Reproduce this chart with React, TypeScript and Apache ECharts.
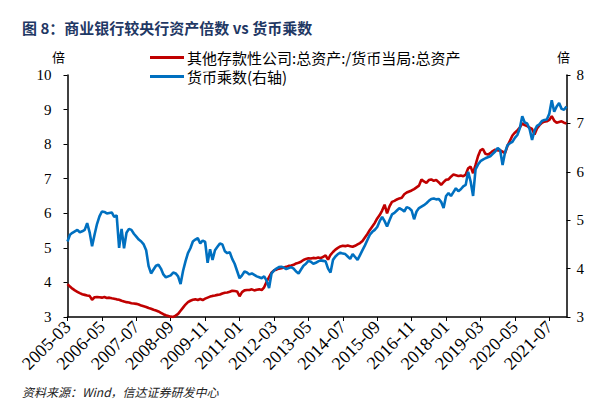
import React, { useEffect, useRef } from "react";
import * as echarts from "echarts";

const startYear = 2005;
const startMonth = 3;
const monthCount = 204;
const categories: string[] = [];
for (let k = 0; k < monthCount; k++) {
  const m0 = startMonth - 1 + k;
  const y = startYear + Math.floor(m0 / 12);
  const m = (m0 % 12) + 1;
  categories.push(`${y}-${m < 10 ? "0" + m : m}`);
}

const assetRatio: number[] = [
  3.95, 3.88, 3.82, 3.77, 3.73, 3.69, 3.66, 3.64, 3.62, 3.61,
  3.5, 3.57, 3.58, 3.57, 3.56, 3.58, 3.55, 3.56, 3.54, 3.53,
  3.51, 3.5, 3.47, 3.45, 3.43, 3.42, 3.4, 3.39, 3.38, 3.36,
  3.33, 3.31, 3.29, 3.26, 3.24, 3.21, 3.19, 3.16, 3.12, 3.08,
  3.05, 3.03, 3.01, 3.0, 3.04, 3.09, 3.18, 3.27, 3.36, 3.43,
  3.47, 3.5, 3.51, 3.49, 3.52, 3.49, 3.53, 3.56, 3.59, 3.61,
  3.62, 3.64, 3.65, 3.68, 3.7, 3.71, 3.73, 3.76, 3.75, 3.74,
  3.6, 3.72, 3.77, 3.78, 3.78, 3.8, 3.77, 3.79, 3.8, 3.78,
  3.86, 4.02, 4.15, 4.28, 4.35, 4.37, 4.4, 4.41, 4.43, 4.45,
  4.48, 4.49, 4.51, 4.55, 4.57, 4.6, 4.65, 4.68, 4.7, 4.69,
  4.71, 4.7, 4.72, 4.7, 4.74, 4.78, 4.66, 4.8, 4.88, 4.95,
  5.0, 5.04, 5.06, 5.05, 5.07, 5.05, 5.03, 5.06, 5.1, 5.14,
  5.2, 5.3, 5.4, 5.52, 5.62, 5.72, 5.85, 5.95, 6.08, 6.25,
  6.0, 6.2, 6.33, 6.36, 6.4, 6.43, 6.45, 6.55, 6.6, 6.63,
  6.66, 6.7, 6.75, 6.8, 6.98, 6.92, 6.88, 6.96, 6.98, 6.94,
  6.96, 6.9, 6.82, 6.9, 6.97, 6.98, 7.06, 7.12, 7.1, 7.08,
  7.09, 7.07, 7.12, 7.3, 7.35, 7.16, 7.4, 7.65, 7.82, 7.86,
  7.72, 7.7, 7.74, 7.8, 7.84, 7.82, 7.82, 7.78, 7.74, 7.95,
  8.1, 8.25, 8.33, 8.4, 8.48, 8.6, 8.55, 8.52, 8.48, 8.44,
  8.28, 8.45, 8.55, 8.62, 8.65, 8.66, 8.7, 8.81, 8.68, 8.62,
  8.64, 8.66, 8.62, 8.6,
];

const moneyMultiplier: number[] = [
  4.56, 4.7, 4.74, 4.77, 4.8, 4.75, 4.77, 4.8, 4.94, 4.75,
  4.46, 4.7, 4.92, 5.08, 5.18, 5.17, 5.14, 5.15, 5.16, 5.07,
  5.1, 4.43, 4.82, 4.42, 4.74, 4.82, 4.8, 4.72, 4.66, 4.6,
  4.56, 4.5, 4.38, 4.05, 3.9, 3.98, 4.06, 4.08, 4.0, 3.88,
  3.82, 3.84, 3.86, 3.92, 3.9, 3.84, 3.68, 3.95, 4.15, 4.32,
  4.42, 4.56, 4.6, 4.63, 4.52, 4.58, 4.55, 4.12, 4.4, 4.18,
  4.38, 4.45, 4.52, 4.5, 4.36, 4.32, 4.34, 4.2, 4.1, 3.95,
  3.8, 3.86, 3.94, 3.92, 3.88, 3.9, 3.87, 3.84, 3.82, 3.8,
  3.84, 3.75, 3.6, 3.9, 3.96, 4.0, 4.03, 4.04, 4.02, 3.99,
  4.01, 4.03, 4.0, 3.94, 3.9, 3.98, 4.06, 4.1, 4.16, 4.14,
  4.1, 4.12, 4.15, 4.17, 4.16, 4.15, 4.0, 3.92, 4.18, 4.25,
  4.3, 4.33, 4.31, 4.3, 4.25, 4.2, 4.3, 4.24, 4.18, 4.28,
  4.38, 4.48, 4.59, 4.7, 4.76, 4.8, 4.86, 4.98, 5.07, 4.98,
  4.87, 5.0, 5.12, 5.15, 5.2, 5.25, 5.22, 5.18, 5.27, 5.25,
  5.2, 5.02, 5.18, 5.25, 5.28, 5.31, 5.35, 5.4, 5.44, 5.45,
  5.43, 5.44, 5.38, 5.25, 5.5, 5.56, 5.5, 5.58, 5.66, 5.6,
  5.64, 5.7, 5.73, 6.0, 5.8, 5.5, 6.05, 6.15, 6.22, 6.25,
  6.28, 6.3, 6.32, 6.37, 6.42, 6.49, 6.45, 6.14, 6.4, 6.55,
  6.59, 6.62, 6.7, 6.76, 6.9, 7.15, 7.02, 7.0, 6.88, 6.66,
  6.85, 6.95, 6.98, 7.05, 7.07, 7.08, 7.2, 7.48, 7.24, 7.35,
  7.42, 7.3, 7.28, 7.35,
];

const leftTicks = { min: 3, max: 10, interval: 1 };
const rightTicks = { min: 3, max: 8, interval: 1 };

const titleText = "图 8：商业银行较央行资产倍数 vs 货币乘数";
const seriesNames = ["其他存款性公司:总资产:/货币当局:总资产", "货币乘数(右轴)"];
const unitText = "倍";
const sourceText = "资料来源：Wind，信达证券研发中心";

const RED = "#C00000";
const BLUE = "#0070C0";
const SERIF = "'Liberation Serif', 'Times New Roman', serif";
const CJK = "'Noto Sans CJK SC', sans-serif";

export default function App() {
  const ref = useRef<HTMLDivElement>(null);
  useEffect(() => {
    if (!ref.current) return;
    const chart = echarts.init(ref.current, null, { renderer: "svg" });
    const axisLine = { show: true, lineStyle: { color: "#000", width: 1.5 } };
    chart.setOption({
      animation: false,
      backgroundColor: "#fff",
      grid: { left: 67.5, right: 41.5, top: 75, bottom: 82 },
      title: {
        text: titleText,
        left: 17,
        top: 15,
        textStyle: { fontFamily: CJK, fontSize: 15, fontWeight: "bold", color: "#1F3864" },
      },
      legend: {
        orient: "vertical",
        left: 145,
        top: 45,
        itemGap: 4,
        itemWidth: 34,
        itemHeight: 3,
        icon: "rect",
        textStyle: { fontFamily: CJK, fontSize: 15, color: "#000", padding: [0, 0, 0, -2] },
        data: seriesNames,
      },
      graphic: [
        { type: "text", left: 52, top: 50, style: { text: unitText, font: `13px ${CJK}`, fill: "#000" } },
        { type: "text", left: 557, top: 50, style: { text: unitText, font: `13px ${CJK}`, fill: "#000" } },
        {
          type: "text",
          left: 22,
          top: 385,
          style: { text: sourceText, font: `italic 12px ${CJK}`, fill: "#222" },
        },
      ],
      xAxis: {
        type: "category",
        data: categories,
        boundaryGap: false,
        axisLine,
        axisTick: { show: true, interval: 13, length: 4, lineStyle: { color: "#000" } },
        axisLabel: {
          interval: 13,
          rotate: 45,
          margin: 7,
          fontFamily: SERIF,
          fontSize: 18,
          color: "#000",
        },
        splitLine: { show: false },
      },
      yAxis: [
        {
          type: "value",
          ...leftTicks,
          position: "left",
          axisLine,
          axisTick: { show: true, length: 4, lineStyle: { color: "#000" } },
          axisLabel: { fontFamily: SERIF, fontSize: 15, color: "#000", margin: 16 },
          splitLine: { show: false },
        },
        {
          type: "value",
          ...rightTicks,
          position: "right",
          axisLine,
          axisTick: { show: true, length: 4, lineStyle: { color: "#000" } },
          axisLabel: { fontFamily: SERIF, fontSize: 15, color: "#000", margin: 10 },
          splitLine: { show: false },
        },
      ],
      series: [
        {
          name: seriesNames[0],
          type: "line",
          data: assetRatio,
          yAxisIndex: 0,
          showSymbol: false,
          lineStyle: { color: RED, width: 2.6 },
          itemStyle: { color: RED },
          z: 2,
        },
        {
          name: seriesNames[1],
          type: "line",
          data: moneyMultiplier,
          yAxisIndex: 1,
          showSymbol: false,
          lineStyle: { color: BLUE, width: 2.6 },
          itemStyle: { color: BLUE },
          z: 3,
        },
      ],
    });
    return () => chart.dispose();
  }, []);
  return <div ref={ref} style={{ width: 608, height: 399, position: "absolute", left: 0, top: 0 }} />;
}
